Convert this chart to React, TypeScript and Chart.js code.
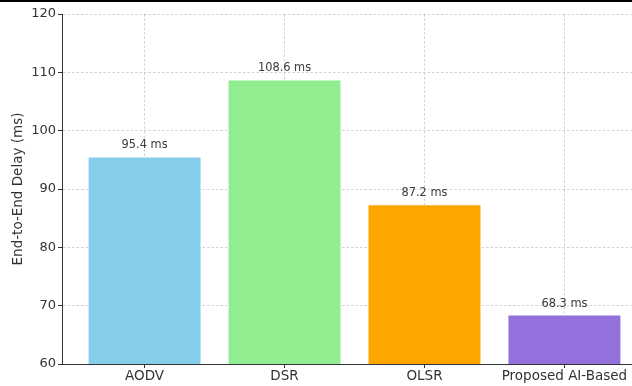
import React, { useEffect, useRef } from "react";
import { Chart, registerables } from "chart.js";

Chart.register(...registerables);

const categories: string[] = ["AODV", "DSR", "OLSR", "Proposed AI-Based"];
const delays: number[] = [95.4, 108.6, 87.2, 68.3];
const barColors: string[] = ["#87CEEB", "#90EE90", "#FFA500", "#9370DB"];
const yMin = 60;
const yMax = 120;
const yStep = 10;
const yTitle = "End-to-End Delay (ms)";
const unit = " ms";

const FONT = "'DejaVu Sans', sans-serif";
const GRID = "rgba(140,140,140,0.38)";
const INK = "#333333";

const valueLabels = {
  id: "valueLabels",
  afterDraw(chart: any) {
    const ctx = chart.ctx;
    const meta = chart.getDatasetMeta(0);
    ctx.save();
    ctx.font = `11.4px ${FONT}`;
    ctx.fillStyle = "#3a3a3a";
    ctx.textAlign = "center";
    ctx.textBaseline = "middle";
    meta.data.forEach((bar: any, i: number) => {
      ctx.fillText(delays[i].toFixed(1) + unit, bar.x, bar.y - 12);
    });
    ctx.restore();
  },
};

export default function App() {
  const ref = useRef<HTMLCanvasElement | null>(null);

  useEffect(() => {
    if (!ref.current) return;
    const chart = new Chart(ref.current, {
      type: "bar",
      data: {
        datasets: [
          {
            data: delays.map((v, i) => ({ x: i, y: v })),
            backgroundColor: barColors,
            borderWidth: 0,
            barPercentage: 0.8,
            categoryPercentage: 1,
          },
        ],
      },
      options: {
        responsive: false,
        animation: false,
        devicePixelRatio: 1,
        layout: { padding: { top: 14, right: 13, left: 0, bottom: 0 } },
        plugins: { legend: { display: false }, tooltip: { enabled: false } },
        scales: {
          x: {
            type: "linear",
            min: -0.59,
            max: 3.59,
            offset: false,
            z: 1,
            afterFit: (s: any) => {
              s.height = 22;
            },
            ticks: {
              stepSize: 1,
              includeBounds: false,
              autoSkip: false,
              maxRotation: 0,
              padding: 0,
              color: INK,
              font: { family: FONT, size: 13.5 },
              callback: (v: any) =>
                Number.isInteger(v) && categories[v] !== undefined ? categories[v] : "",
            },
            grid: {
              offset: false,
              color: GRID,
              tickColor: INK,
              tickLength: 4,
              tickBorderDash: [],
            } as any,
            border: { color: INK, width: 1, dash: [2.5, 2] } as any,
          },
          y: {
            min: yMin,
            max: yMax,
            z: 1,
            afterFit: (s: any) => {
              s.width = 62;
            },
            ticks: {
              stepSize: yStep,
              padding: 2,
              color: INK,
              font: { family: FONT, size: 13 },
            },
            grid: {
              color: GRID,
              tickColor: INK,
              tickLength: 4,
              tickBorderDash: [],
            } as any,
            border: { color: INK, width: 1, dash: [2.5, 2] } as any,
            title: {
              display: true,
              text: yTitle,
              color: INK,
              font: { family: FONT, size: 13.5 },
              padding: { top: 10, bottom: 0 },
            },
          },
        },
      },
      plugins: [valueLabels],
    });
    return () => chart.destroy();
  }, []);

  return (
    <div
      style={{
        position: "absolute",
        left: 0,
        top: 0,
        width: 632,
        height: 386,
        overflow: "hidden",
        background: "#fff",
      }}
    >
      <canvas ref={ref} width={660} height={386} style={{ display: "block" }} />
      <div
        style={{
          position: "absolute",
          left: 0,
          top: 0,
          width: 632,
          height: 2,
          background: "#000",
        }}
      />
    </div>
  );
}
